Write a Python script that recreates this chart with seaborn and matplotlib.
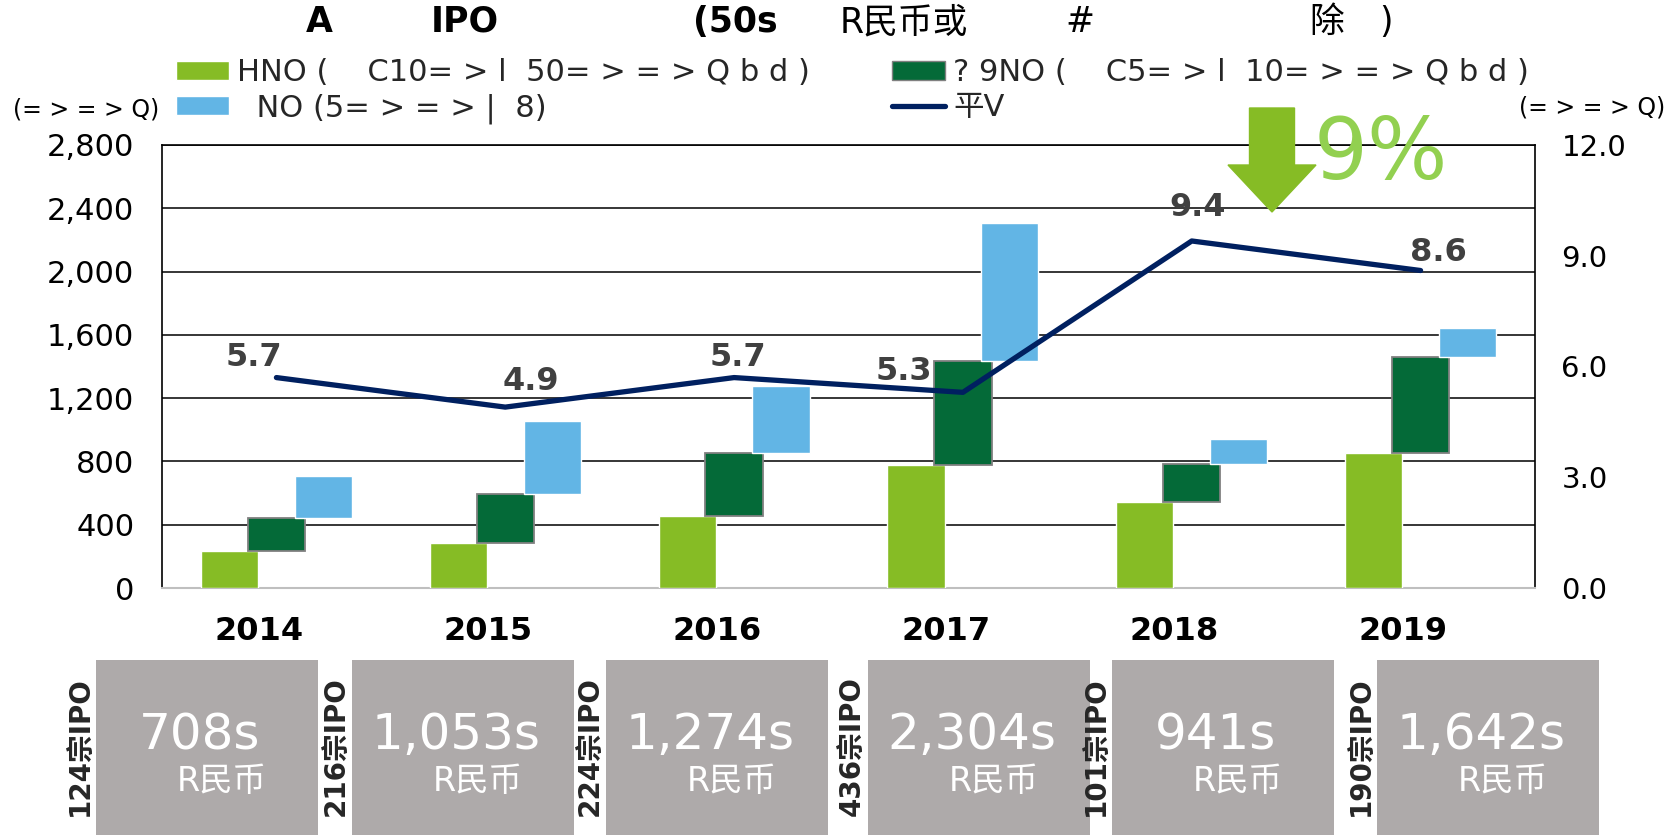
import matplotlib
matplotlib.use("Agg")
import matplotlib.pyplot as plt
from matplotlib.patches import Patch, Rectangle, FancyArrow
from matplotlib.lines import Line2D
from matplotlib.ticker import FuncFormatter, FixedLocator
import seaborn as sns
import numpy as np

# dados
anos = ["2014", "2015", "2016", "2017", "2018", "2019"]
base_verde = [234, 286, 455, 777, 542, 855]
meio_escuro = [210, 306, 400, 658, 240, 607]
totais = [708, 1053, 1274, 2304, 941, 1642]
media = [5.7, 4.9, 5.7, 5.3, 9.4, 8.6]
qtd_ipo = [124, 216, 224, 436, 101, 190]

titulo = [("A", 319, True), ("IPO", 465, True), ("(50s", 735, True),
          ("R民币或", 904, False), ("#", 1080, False), ("除", 1327, False), (")", 1386, False)]
leg_labels = ["HNO (    C10= > l  50= > = > Q b d )", "  NO (5= > = > |  8)",
              "? 9NO (    C5= > l  10= > = > Q b d )", "平V"]
unidade = "(= > = > Q)"

VERDE = "#86bc25"
ESCURO = "#046a38"
AZUL = "#62b5e5"
MARINHO = "#002060"
CINZA = "#aeaaaa"

sns.set_theme(style="white")
plt.rcParams['font.family'] = ['DejaVu Sans', 'Noto Sans CJK SC']

W, H = 1675, 835
fx = lambda p: p / W
fy = lambda p: 1 - p / H

fig = plt.figure(figsize=(W / 100, H / 100), dpi=100)
ax = fig.add_axes([fx(162), fy(588), fx(1535) - fx(162), fy(145) - fy(588)])

x = np.arange(len(anos))
cum_escuro = np.array(base_verde) + np.array(meio_escuro)
azul = np.array(totais) - cum_escuro
larg = 0.25
desl = 0.205

ax.bar(x - desl, base_verde, width=larg, color=VERDE, zorder=3)
ax.bar(x, meio_escuro, bottom=base_verde, width=larg, color=ESCURO,
       edgecolor="#808080", linewidth=1.3, zorder=3)
ax.bar(x + desl, azul, bottom=cum_escuro, width=larg, color=AZUL, zorder=3)

ax.set_xlim(-0.5, len(anos) - 0.5)
ax.set_ylim(0, 2800)
ax.set_yticks(np.arange(0, 2801, 400))
ax.yaxis.set_major_formatter(FuncFormatter(lambda v, p: f"{int(v):,}"))
ax.set_xticks(x - 0.075)
ax.set_xticklabels(anos, fontsize=23, fontweight="bold", color="black")
ax.tick_params(axis="x", length=0, pad=20)
ax.tick_params(axis="y", length=0, pad=20, labelsize=22, labelcolor="black")
ax.set_axisbelow(True)
ax.grid(axis="y", color="black", linewidth=1.1)
ax.grid(axis="x", visible=False)
for s in ["left", "right", "top"]:
    ax.spines[s].set_color("black")
    ax.spines[s].set_linewidth(1.2)
ax.spines["bottom"].set_color("#bfbfbf")
ax.spines["bottom"].set_linewidth(1.5)

ax2 = ax.twinx()
sns.lineplot(x=x, y=media, ax=ax2, color=MARINHO, linewidth=3.8, zorder=5)
ax2.set_ylim(0, 12)
ax2.yaxis.set_major_locator(FixedLocator([0, 3, 6, 9, 12]))
ax2.yaxis.set_major_formatter(FuncFormatter(lambda v, p: f"{v:.1f}"))
ax2.tick_params(axis="y", length=0, pad=19, labelsize=21, labelcolor="black")
ax2.set_xlabel("")
ax2.set_ylabel("")
ax2.grid(False)
for s in ax2.spines.values():
    s.set_visible(False)

desloc_rotulos = [(-23, 20), (26, 26), (4, 20), (-59, 21), (6, 33), (18, 18)]
for i, v in enumerate(media):
    ax2.annotate(f"{v:.1f}", (i, v), xytext=desloc_rotulos[i], textcoords="offset pixels",
                 ha="center", va="center", fontsize=23, fontweight="bold", color="#404040")

# título
for txt, px, negrito in titulo:
    fig.text(fx(px), fy(22), txt, ha="center", va="center", fontsize=25,
             fontweight="bold" if negrito else "normal", color="black")

# legenda
handles = [Patch(facecolor=VERDE), Patch(facecolor=AZUL),
           Patch(facecolor=ESCURO, edgecolor="#808080"), Line2D([], [], color=MARINHO, linewidth=3.8)]
leg_kw = dict(loc="upper left", frameon=False, fontsize=22, borderpad=0, borderaxespad=0,
              handletextpad=0.25, handlelength=1.75, handleheight=0.6, labelspacing=0.2)
leg1 = fig.legend(handles[:2], leg_labels[:2], bbox_to_anchor=(fx(176), fy(58)), **leg_kw)
leg2 = fig.legend(handles[2:], leg_labels[2:], bbox_to_anchor=(fx(892), fy(58)), **leg_kw)

fig.text(fx(86), fy(110), unidade, ha="center", va="center", fontsize=17, color="black")
fig.text(fx(1592), fy(107), unidade, ha="center", va="center", fontsize=17, color="black")

# seta e percentual
fig.add_artist(FancyArrow(fx(1272), fy(108), 0, fy(212) - fy(108), width=fx(45),
                          head_width=fx(88), head_length=(fy(165) - fy(212)),
                          length_includes_head=True, color=VERDE, transform=fig.transFigure))
fig.text(fx(1381), fy(156), "9%", ha="center", va="center", fontsize=61, color="#92d050")

# caixas cinzas
caixas_x = [96, 352, 606, 868, 1112, 1377]
for i, bx in enumerate(caixas_x):
    fig.add_artist(Rectangle((fx(bx), 0), fx(222), fy(660), transform=fig.transFigure,
                             facecolor=CINZA, edgecolor="none"))
    fig.text(fx(bx - 16), fy(746), f"{qtd_ipo[i]}宗IPO", rotation=90, ha="center", va="center",
             fontsize=20, fontweight="bold", color="#262626")
    fig.text(fx(bx + 104), fy(735), f"{totais[i]:,}s", ha="center", va="center",
             fontsize=36, color="white")
    fig.text(fx(bx + 126), fy(781), "R民币", ha="center", va="center",
             fontsize=24, color="white")

fig.savefig("out.png", dpi=100)
